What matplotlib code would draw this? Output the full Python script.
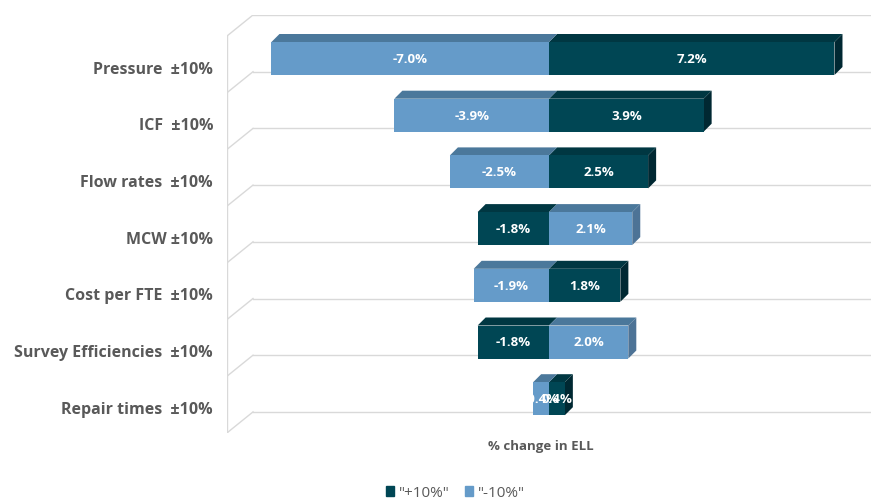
import matplotlib.pyplot as plt
from matplotlib.patches import Polygon, Patch

plt.rcParams['font.family'] = ['Open Sans', 'DejaVu Sans']

# Sensitivity of ELL to each input (+/-10%), top row first
factors = ['Pressure  \u00b110%', 'ICF  \u00b110%', 'Flow rates  \u00b110%', 'MCW \u00b110%',
           'Cost per FTE  \u00b110%', 'Survey Efficiencies  \u00b110%', 'Repair times  \u00b110%']
plus_10 = [7.2, 3.9, 2.5, -1.8, 1.8, -1.8, 0.4]
minus_10 = [-7.0, -3.9, -2.5, 2.1, -1.9, 2.0, -0.4]
series_names = ['"+10%"', '"-10%"']

# front, top, side shades for each series
dark = ['#004654', '#003742', '#002832']
light = ['#659bc9', '#4b789b', '#4d7396']

W, H = 871, 502
fig = plt.figure(figsize=(W / 100, H / 100), dpi=100)
# axes box in pixels: x 227..871, y 16..434
ax = fig.add_axes([227 / W, 1 - 434 / H, (871 - 227) / W, (434 - 16) / H])

px_x = 39.65          # pixels per percent
zero_px = 549
row_px = 56.7
first_px = 59.5       # centre of first bar front face
xmin = (227 - zero_px) / px_x
xmax = (871 - zero_px) / px_x
ax.set_xlim(xmin, xmax)
y_top = (16 - first_px) / row_px
y_bot = (434 - first_px) / row_px
ax.set_ylim(y_bot, y_top)

bar_h = 33 / row_px
dx = 8 / px_x
dy = -8 / row_px

# back wall gridlines with slanted side wall
wall_dx = 26 / px_x
wall_dy = 21 / row_px
grid_kw = dict(color='#d9d9d9', lw=1.0, zorder=0)
for k in range(len(factors) + 1):
    g = y_top + k
    ax.plot([xmin + wall_dx, xmax], [g, g], **grid_kw)
    ax.plot([xmin, xmin + wall_dx], [g + wall_dy, g], **grid_kw)
ax.plot([xmin, xmin], [y_top + wall_dy, y_bot], **grid_kw)


def draw_bar(i, v, shades):
    x0, x1 = min(0, v), max(0, v)
    top = i - bar_h / 2
    ax.add_patch(Polygon([(x0, top), (x1, top), (x1 + dx, top + dy), (x0 + dx, top + dy)],
                         closed=True, fc=shades[1], ec='none', zorder=2))
    if v > 0:
        ax.add_patch(Polygon([(x1, top), (x1 + dx, top + dy), (x1 + dx, top + bar_h + dy), (x1, top + bar_h)],
                             closed=True, fc=shades[2], ec='none', zorder=2))
    ax.barh(i, v, height=bar_h, color=shades[0], zorder=3)
    ax.text(v / 2, i, f'{v:.1f}%', color='white', fontsize=9.5, fontweight='bold',
            ha='center', va='center', zorder=4)


for i in range(len(factors)):
    draw_bar(i, plus_10[i], dark)
    draw_bar(i, minus_10[i], light)

ax.set_yticks([i + 8 / row_px for i in range(len(factors))])
ax.set_yticklabels(factors, fontsize=11.5, fontweight='bold', color='#595959')
ax.tick_params(axis='y', length=0, pad=10)
ax.set_xticks([])
for s in ax.spines.values():
    s.set_visible(False)

fig.text(541 / W, 1 - 447 / H, '% change in ELL', ha='center', va='center',
         fontsize=9.5, fontweight='bold', color='#595959')

handles = [Patch(color=dark[0]), Patch(color=light[0])]
fig.legend(handles, series_names, loc='center', bbox_to_anchor=(455 / W, 1 - 494 / H),
           ncol=2, frameon=False, fontsize=11, handlelength=0.55, handleheight=0.55,
           handletextpad=0.3, columnspacing=1.0, labelcolor='#595959')

fig.savefig('out.png', dpi=100)
